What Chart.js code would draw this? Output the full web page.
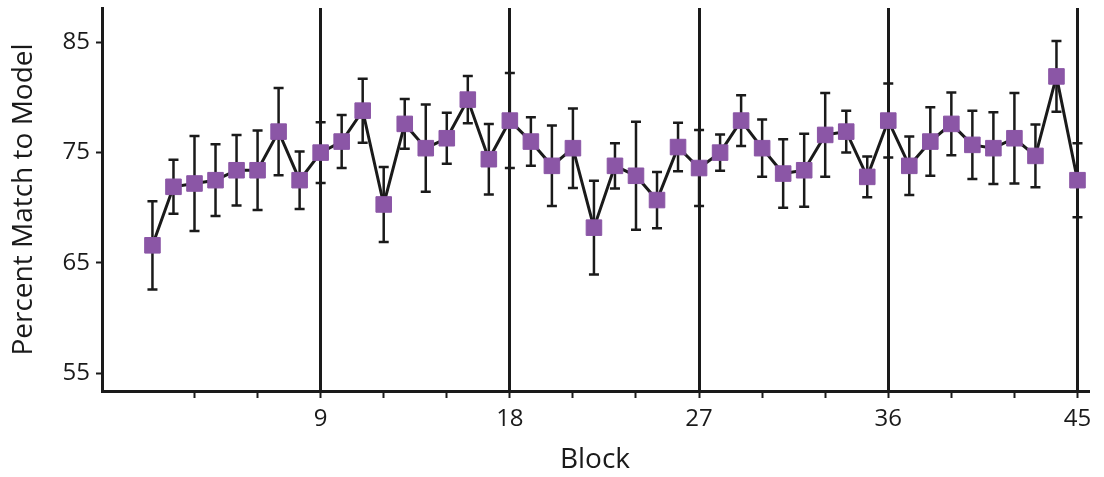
<!DOCTYPE html>
<html>
<head>
<meta charset="utf-8">
<script src="https://cdn.jsdelivr.net/npm/chart.js@4"></script>
<style>
  html, body { margin: 0; padding: 0; background: #fff; }
  #wrap { width: 1104px; height: 477px; }
</style>
</head>
<body>
<div id="wrap"><canvas id="chart"></canvas></div>
<script>
// block number, mean percent match and its error (+/-)
const blocks = [1, 2, 3, 4, 5, 6, 7, 8, 9, 10, 11, 12, 13, 14, 15, 16, 17, 18, 19, 20, 21, 22, 23,
  24, 25, 26, 27, 28, 29, 30, 31, 32, 33, 34, 35, 36, 37, 38, 39, 40, 41, 42, 43, 44, 45];
const matchPct = [66.6, 71.9, 72.2, 72.5, 73.4, 73.4, 76.9, 72.5, 75.0, 76.0,
  78.8, 70.3, 77.6, 75.4, 76.3, 79.8, 74.4, 77.9, 76.0, 73.8,
  75.4, 68.2, 73.8, 72.9, 70.7, 75.5, 73.6, 75.0, 77.9, 75.4,
  73.1, 73.4, 76.6, 76.9, 72.8, 77.9, 73.8, 76.0, 77.6, 75.7,
  75.4, 76.3, 74.7, 81.9, 72.5];
const matchErr = [4.0, 2.45, 4.3, 3.25, 3.2, 3.6, 3.95, 2.6, 2.75, 2.4,
  2.9, 3.4, 2.25, 3.95, 2.3, 2.15, 3.2, 4.3, 2.2, 3.65,
  3.6, 4.25, 2.05, 4.9, 2.55, 2.2, 3.45, 1.65, 2.3, 2.6,
  3.1, 3.3, 3.8, 1.9, 1.85, 3.35, 2.65, 3.1, 2.85, 3.1,
  3.25, 4.1, 2.85, 3.2, 3.35];

const xTicks = [3, 6, 9, 12, 15, 18, 21, 24, 27, 30, 33, 36, 39, 42, 45];
const xLabeled = [9, 18, 27, 36, 45];
const yTicks = [55, 65, 75, 85];

const ink = '#1a1a1a';
const purple = '#8b56a6';
const font = "'Open Sans', 'Noto Sans', sans-serif";

// vertical error bars with caps, drawn under the markers
const errorBars = {
  id: 'errorBars',
  beforeDatasetsDraw(chart) {
    const { ctx, scales: { x, y } } = chart;
    ctx.save();
    ctx.strokeStyle = ink;
    ctx.lineWidth = 2.5;
    blocks.forEach((b, i) => {
      const px = x.getPixelForValue(b);
      const top = y.getPixelForValue(matchPct[i] + matchErr[i]);
      const bot = y.getPixelForValue(matchPct[i] - matchErr[i]);
      ctx.beginPath();
      ctx.moveTo(px, top); ctx.lineTo(px, bot);
      ctx.moveTo(px - 5, top); ctx.lineTo(px + 5, top);
      ctx.moveTo(px - 5, bot); ctx.lineTo(px + 5, bot);
      ctx.stroke();
    });
    ctx.restore();
  }
};

new Chart(document.getElementById('chart'), {
  type: 'line',
  data: {
    datasets: [{
      data: blocks.map((b, i) => ({ x: b, y: matchPct[i] })),
      borderColor: ink,
      borderWidth: 3,
      tension: 0,
      pointStyle: 'rect',
      pointRadius: 11,
      pointBackgroundColor: purple,
      pointBorderColor: purple,
      pointBorderWidth: 1,
      clip: false
    }]
  },
  options: {
    responsive: true,
    maintainAspectRatio: false,
    animation: false,
    layout: { autoPadding: false, padding: { top: 8, right: 16, left: 0, bottom: 0 } },
    plugins: { legend: { display: false }, tooltip: { enabled: false } },
    scales: {
      x: {
        type: 'linear',
        min: -1.4,
        max: 45.5,
        afterBuildTicks: (scale) => { scale.ticks = xTicks.map(v => ({ value: v })); },
        afterFit: (scale) => { scale.height = 86; },
        ticks: {
          autoSkip: false,
          maxRotation: 0,
          padding: 7,
          color: ink,
          font: { family: font, size: 24 },
          callback: (v) => xLabeled.includes(v) ? String(v) : ''
        },
        grid: {
          drawOnChartArea: true,
          color: (c) => c.tick && xLabeled.includes(c.tick.value) ? ink : 'rgba(0,0,0,0)',
          lineWidth: 3,
          tickColor: ink,
          tickWidth: 2,
          tickLength: 7
        },
        border: { display: true, color: ink, width: 3 },
        title: {
          display: true,
          text: 'Block',
          color: ink,
          font: { family: font, size: 28 },
          padding: { top: 0, bottom: 0 }
        }
      },
      y: {
        min: 53.4,
        max: 88.1,
        afterBuildTicks: (scale) => { scale.ticks = yTicks.map(v => ({ value: v })); },
        afterFit: (scale) => {
          scale.width = 102;
          scale.paddingTop = 0;
          scale.paddingBottom = 0;
        },
        ticks: {
          padding: 6,
          color: ink,
          font: { family: font, size: 24 }
        },
        grid: {
          drawOnChartArea: false,
          tickColor: ink,
          tickWidth: 2,
          tickLength: 6
        },
        border: { display: true, color: ink, width: 3 },
        title: {
          display: true,
          text: 'Percent Match to Model',
          color: ink,
          font: { family: font, size: 28 },
          padding: { top: 7, bottom: 0 }
        }
      }
    }
  },
  plugins: [errorBars]
});
</script>
</body>
</html>
